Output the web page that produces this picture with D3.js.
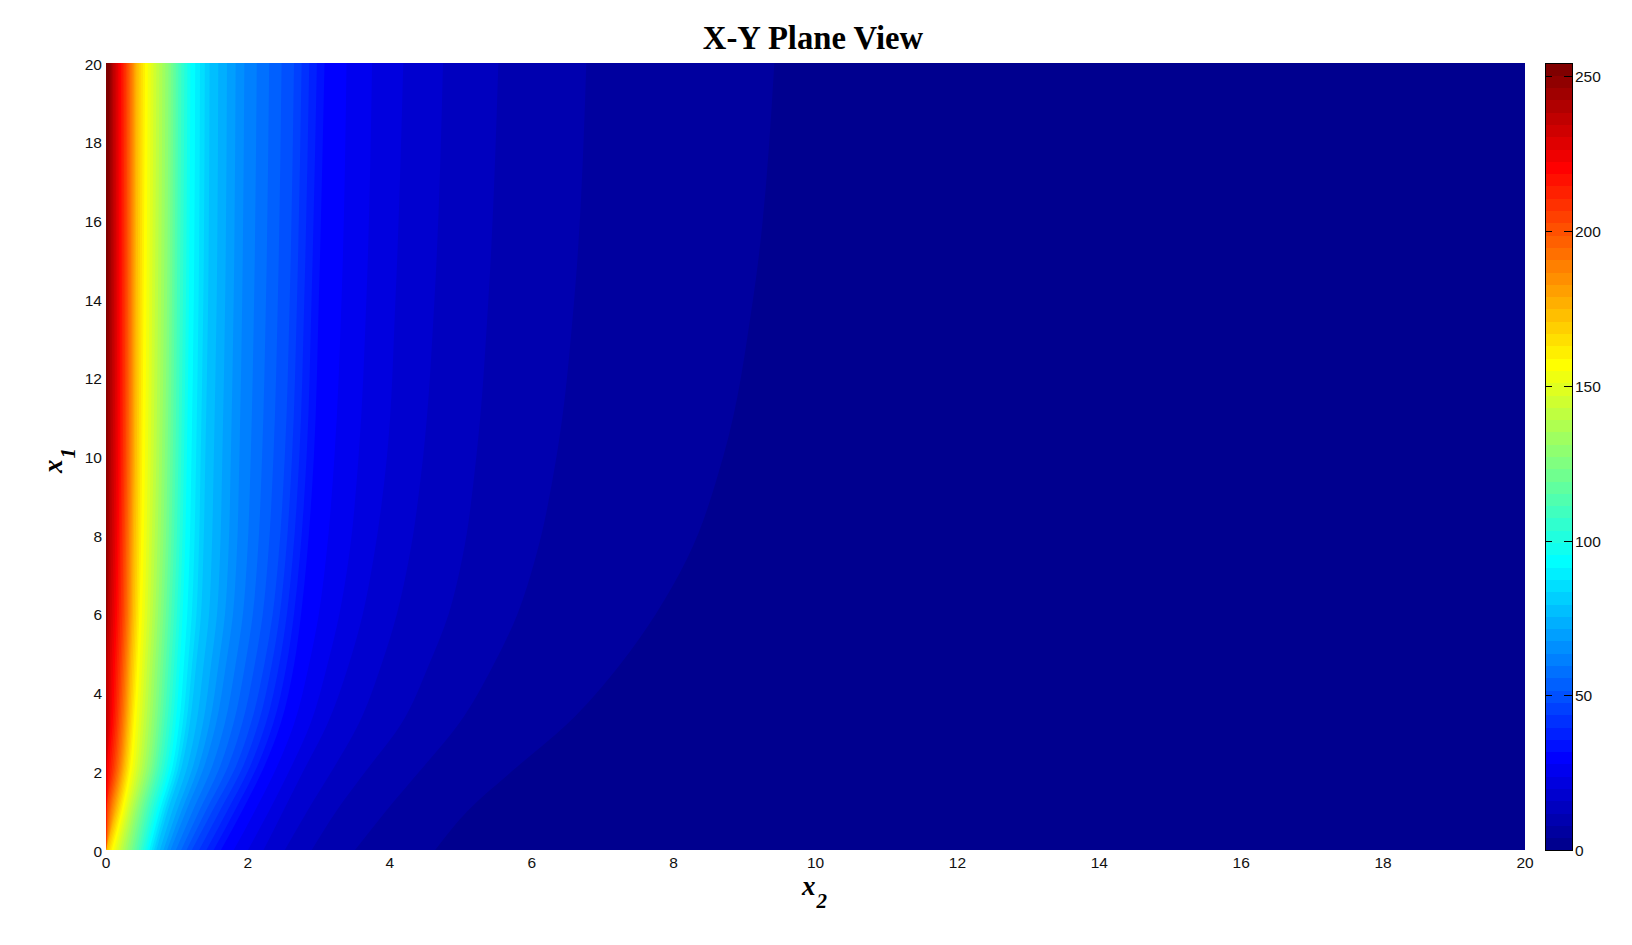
<!DOCTYPE html>
<html><head><meta charset="utf-8">
<script src="https://cdnjs.cloudflare.com/ajax/libs/d3/7.8.5/d3.min.js"></script>
<style>html,body{margin:0;padding:0;background:#fff}svg{display:block}
.tick-label{font-family:"Liberation Sans",Arial,sans-serif;font-size:15.5px;fill:#111}
.serif{font-family:"Liberation Serif","Times New Roman",serif;fill:#000}</style>
</head><body><svg id="chart" width="1632" height="945"></svg>
<script>
// x1 stations at which the contour positions were read
const x1Rows = [0, 1, 2, 3.2, 4.7, 6, 7.4, 10, 14, 20];
// contour levels, in colormap band index (band width = valueMax / 64)
const isoBands = [1, 2, 3, 4, 5, 6, 7, 8, 12, 16, 20, 24, 28, 32, 36, 40, 44, 48, 52, 56, 60, 63];
// x2 position of every contour at each x1 station (one row per contour)
const isoX2 = [
  [4.64, 5.10, 5.72, 6.50, 7.24, 7.75, 8.19, 8.70, 9.12, 9.42],
  [3.51, 3.95, 4.42, 4.97, 5.46, 5.80, 6.05, 6.35, 6.60, 6.77],
  [2.90, 3.25, 3.66, 4.16, 4.55, 4.83, 5.02, 5.22, 5.39, 5.53],
  [2.52, 2.84, 3.18, 3.56, 3.88, 4.10, 4.27, 4.47, 4.63, 4.75],
  [2.22, 2.50, 2.78, 3.12, 3.42, 3.62, 3.77, 3.96, 4.08, 4.19],
  [2.00, 2.30, 2.58, 2.88, 3.12, 3.29, 3.42, 3.56, 3.67, 3.75],
  [1.80, 2.10, 2.38, 2.65, 2.86, 3.00, 3.10, 3.22, 3.32, 3.39],
  [1.62, 1.92, 2.20, 2.46, 2.65, 2.75, 2.83, 2.93, 3.00, 3.08],
  [1.21, 1.50, 1.80, 2.04, 2.23, 2.35, 2.43, 2.52, 2.59, 2.65],
  [0.91, 1.13, 1.36, 1.55, 1.69, 1.79, 1.84, 1.88, 1.92, 1.95],
  [0.71, 0.87, 1.05, 1.18, 1.27, 1.34, 1.37, 1.40, 1.44, 1.46],
  [0.58, 0.72, 0.88, 0.98, 1.04, 1.08, 1.11, 1.14, 1.17, 1.19],
  [0.46, 0.58, 0.73, 0.82, 0.88, 0.92, 0.95, 0.98, 1.00, 1.02],
  [0.33, 0.45, 0.60, 0.68, 0.73, 0.77, 0.80, 0.83, 0.86, 0.88],
  [0.20, 0.33, 0.46, 0.53, 0.58, 0.62, 0.64, 0.67, 0.69, 0.71],
  [0.08, 0.22, 0.33, 0.39, 0.44, 0.47, 0.49, 0.51, 0.53, 0.55],
  [0.00, 0.14, 0.25, 0.31, 0.35, 0.38, 0.39, 0.41, 0.42, 0.43],
  [0.00, 0.07, 0.18, 0.24, 0.28, 0.31, 0.32, 0.34, 0.35, 0.36],
  [0.00, 0.01, 0.10, 0.16, 0.20, 0.23, 0.24, 0.26, 0.27, 0.28],
  [0.00, 0.00, 0.01, 0.07, 0.10, 0.13, 0.15, 0.17, 0.18, 0.19],
  [0.00, 0.00, 0.00, 0.00, 0.00, 0.03, 0.05, 0.07, 0.09, 0.10],
  [0.00, 0.00, 0.00, 0.00, 0.00, 0.00, 0.00, 0.00, 0.02, 0.05]
];
const valueMax = 254.3;
const bandCount = 64;
const xTicks = [0, 2, 4, 6, 8, 10, 12, 14, 16, 18, 20];
const yTicks = [0, 2, 4, 6, 8, 10, 12, 14, 16, 18, 20];
const colorTicks = [0, 50, 100, 150, 200, 250];

const plot = {left: 106, right: 1525, top: 63, bottom: 850};
const bar = {left: 1545, right: 1573};
const svg = d3.select('#chart');

const x = d3.scaleLinear().domain([0, 20]).range([plot.left, plot.right]);
const y = d3.scaleLinear().domain([0, 20]).range([plot.bottom, plot.top]);
const cy = d3.scaleLinear().domain([0, valueMax]).range([plot.bottom, plot.top]);
const jet = d3.scaleLinear().domain([0, 7, 23, 39, 55, 63])
  .range(['#00008f', '#0000ff', '#00ffff', '#ffff00', '#ff0000', '#800000'])
  .interpolate(d3.interpolateRgb);

// Contour position of one band edge at one station: read contours, resolved to the 64 colour bands.
const bandPos = d3.scaleLinear().domain(isoBands);
function edge(band) {
  return x1Rows.map((v, r) => ({x1: v, x2: bandPos.copy().range(isoX2.map(row => row[r]))(band)}));
}
svg.append('defs').append('clipPath').attr('id', 'plotClip').append('rect')
  .attr('x', plot.left).attr('y', plot.top)
  .attr('width', plot.right - plot.left).attr('height', plot.bottom - plot.top);

const area = d3.area().curve(d3.curveMonotoneY)
  .y(d => y(d.x1)).x0(x(0)).x1(d => x(d.x2));

const field = svg.append('g').attr('clip-path', 'url(#plotClip)');
field.append('rect').attr('x', x(0)).attr('y', y(20))
  .attr('width', x(20) - x(0)).attr('height', y(0) - y(20)).attr('fill', jet(0));
field.selectAll('path').data(d3.range(1, bandCount)).join('path')
  .attr('d', k => area(edge(k))).attr('fill', k => jet(k));

// tick labels
svg.append('g').selectAll('text').data(xTicks).join('text').attr('class', 'tick-label')
  .attr('x', d => x(d)).attr('y', 868).attr('text-anchor', 'middle').text(d => d);
svg.append('g').selectAll('text').data(yTicks).join('text').attr('class', 'tick-label')
  .attr('x', 102).attr('y', d => y(d) + 6.5).attr('text-anchor', 'end').text(d => d);

// colorbar
const bg = svg.append('g').attr('shape-rendering', 'crispEdges');
const bandH = (plot.bottom - plot.top) / bandCount;
bg.selectAll('rect').data(d3.range(bandCount)).join('rect')
  .attr('x', bar.left).attr('width', bar.right - bar.left)
  .attr('y', i => cy((i + 1) * valueMax / bandCount)).attr('height', bandH + 0.5)
  .attr('fill', i => jet(i));
bg.append('rect').attr('x', bar.left + 0.5).attr('y', plot.top + 0.5)
  .attr('width', bar.right - bar.left - 1 ).attr('height', plot.bottom - plot.top)
  .attr('fill', 'none').attr('stroke', '#000');
const ct = svg.append('g').selectAll('g').data(colorTicks).join('g');
ct.append('line').attr('x1', bar.left).attr('x2', bar.left + 7)
  .attr('y1', d => Math.round(cy(d)) + 0.5).attr('y2', d => Math.round(cy(d)) + 0.5).attr('stroke', '#000');
ct.append('line').attr('x1', bar.right - 9).attr('x2', bar.right)
  .attr('y1', d => Math.round(cy(d)) + 0.5).attr('y2', d => Math.round(cy(d)) + 0.5).attr('stroke', '#000');
ct.append('text').attr('class', 'tick-label').attr('x', 1575)
  .attr('y', d => cy(d) + 6).text(d => d);

// title and axis labels
svg.append('text').attr('class', 'serif').attr('x', 813).attr('y', 49)
  .attr('text-anchor', 'middle').attr('font-weight', 'bold').attr('font-size', 32.7).text('X-Y Plane View');
const xl = svg.append('text').attr('class', 'serif').attr('x', 802).attr('y', 895)
  .attr('font-style', 'italic').attr('font-weight', 'bold').attr('font-size', 27);
xl.append('tspan').text('x');
xl.append('tspan').attr('dx', 1).attr('dy', 13).attr('font-size', 21).text('2');
const yl = svg.append('text').attr('class', 'serif')
  .attr('transform', 'translate(62,473) rotate(-90)')
  .attr('font-style', 'italic').attr('font-weight', 'bold').attr('font-size', 27);
yl.append('tspan').text('x');
yl.append('tspan').attr('dx', 1).attr('dy', 13).attr('font-size', 21).text('1');
</script></body></html>
